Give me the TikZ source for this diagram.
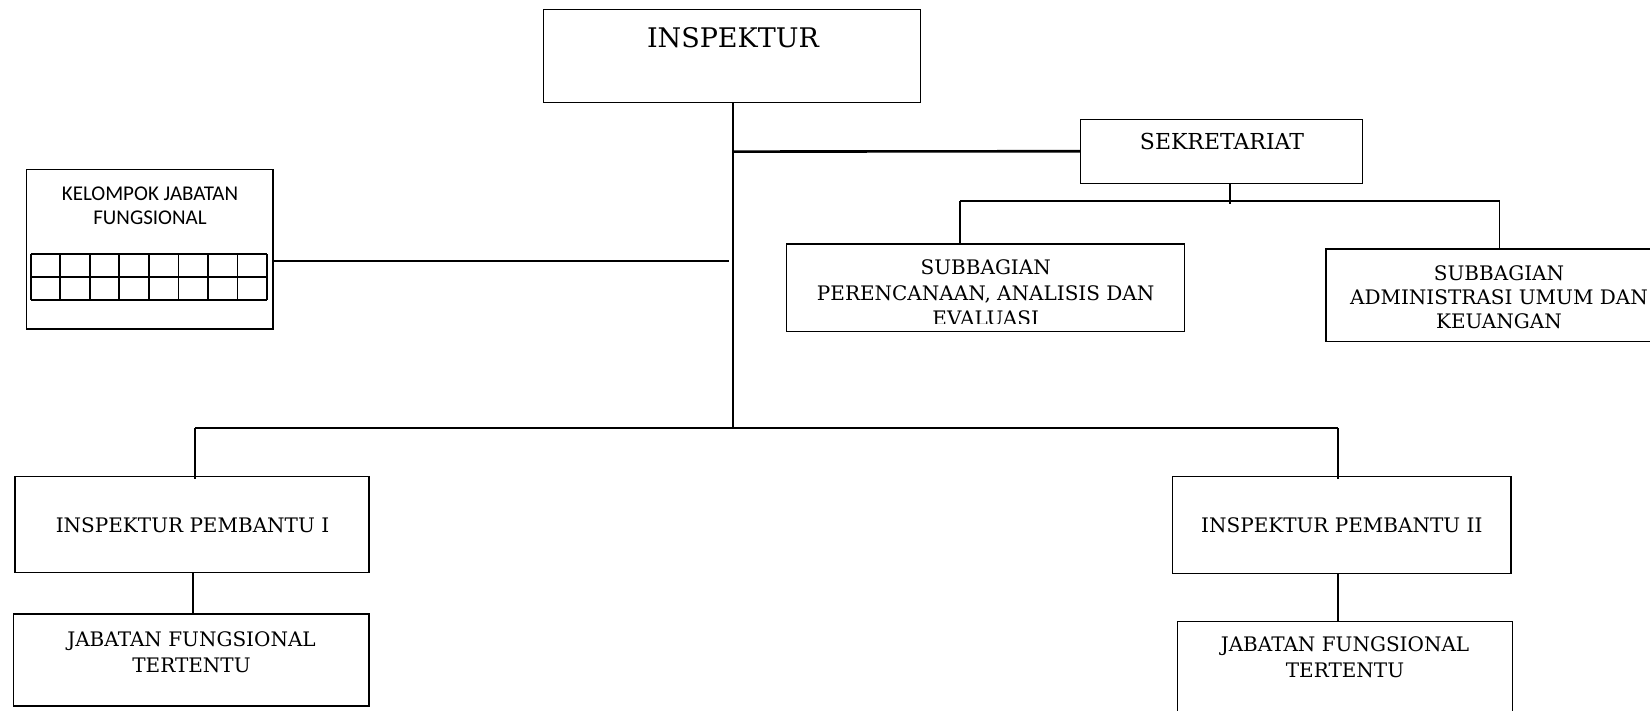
\documentclass[tikz,border=0pt]{standalone}
\usepackage{fontspec}
\setmainfont{DejaVu Serif}
\newfontfamily\kelfont{Carlito}
\tikzset{
  box/.style={draw, line width=1.2pt, inner sep=0pt},
  lbl/.style={align=center, inner sep=0pt, font=\fontsize{20}{25.5}\selectfont},
  con/.style={line width=1.8pt},
}
\begin{document}
\begin{tikzpicture}[x=1pt,y=-1pt]
\clip (0,0) rectangle (1650,710);
\fill[white] (0,0) rectangle (1650,710);
\node[box, minimum width=377pt, minimum height=93pt] (insp) at (731.7,56){};
\node[lbl, font=\fontsize{27}{32}\selectfont] (insptxt) at (733,38){INSPEKTUR};
\node[box, minimum width=282pt, minimum height=64pt] (sekr) at (1221.7,151.2){};
\node[lbl, font=\fontsize{22}{26}\selectfont] (sekrtxt) at (1222,141.7){SEKRETARIAT};
\node[box, minimum width=397.6pt, minimum height=87.7pt] (perenc) at (985.5,287.9){};
\begin{scope}
\clip (787,244) rectangle (1184,323);
\node[lbl] (perenctxt) at (985.7,293){SUBBAGIAN\\PERENCANAAN, ANALISIS DAN\\EVALUASI};
\end{scope}
\node[box, minimum width=344pt, minimum height=92.7pt] (adm) at (1498,295.4){};
\node[lbl, font=\fontsize{20}{24.2}\selectfont] (admtxt) at (1499,297.5){SUBBAGIAN\\ADMINISTRASI UMUM DAN\\KEUANGAN};
\node[box, minimum width=246.3pt, minimum height=159.7pt] (kel) at (149.9,249.2){};
\node[lbl, font=\kelfont\fontsize{21}{23.7}\selectfont] (keltxt) at (150,206){KELOMPOK JABATAN\\FUNGSIONAL};
\foreach \i in {0,...,8}
  \draw[con] (30.7+\i*29.54,254) -- (30.7+\i*29.54,300);
\foreach \j in {254,277,300}
  \draw[con] (30.7,\j) -- (267,\j);
\node[box, minimum width=354pt, minimum height=96pt] (ipa) at (192,524.7){};
\node[lbl] (ipatxt) at (192.5,525){INSPEKTUR PEMBANTU I};
\node[box, minimum width=355.7pt, minimum height=92pt] (jfa) at (191.2,660){};
\node[lbl] (jfatxt) at (191.5,652.4){JABATAN FUNGSIONAL\\TERTENTU};
\node[box, minimum width=338.3pt, minimum height=96.6pt] (ipb) at (1341.9,525){};
\node[lbl] (ipbtxt) at (1341.8,525){INSPEKTUR PEMBANTU II};
\node[box, minimum width=335pt, minimum height=98.3pt] (jfb) at (1344.8,670.9){};
\node[lbl] (jfbtxt) at (1345,657){JABATAN FUNGSIONAL\\TERTENTU};
\coordinate (trunk) at (732.7,428.3);
\coordinate (busa) at (195,428.3);
\coordinate (busb) at (1338.3,428.3);
\coordinate (kelend) at (729.3,261);
\coordinate (sekjoin) at (1230,204);
\coordinate (subl) at (960,200.7);
\coordinate (subr) at (1499.5,200.7);
\draw[con] (insp.south -| trunk) -- (trunk);
\draw[con] (busa) -- (busb);
\draw[line width=2.6pt] (insp.south -| trunk) ++(0,48.5) -- (sekr.west);
\draw[con] (kel.east |- kelend) -- (kelend);
\draw[con] (sekr.south -| sekjoin) -- (sekjoin);
\draw[con] (subl) -- (subr);
\draw[con] (subl) -- (perenc.north -| subl);
\draw[con] (subr) -- (adm.north -| subr);
\draw[con] (busa) -- ([yshift=-2.5pt]ipa.north -| busa);
\draw[con] (busb) -- ([yshift=-3pt]ipb.north -| busb);
\draw[con] (ipa.south -| 193.3,0) -- (jfa.north -| 193.3,0);
\draw[con] (ipb.south -| busb) -- (jfb.north -| busb);
\end{tikzpicture}
\end{document}
